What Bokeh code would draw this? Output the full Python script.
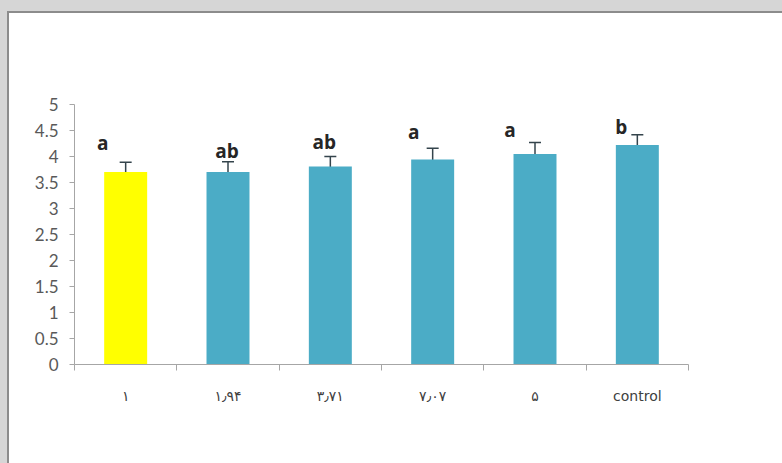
from bokeh.plotting import figure
from bokeh.models import ColumnDataSource, Whisker, TeeHead, FixedTicker, Range1d
from bokeh.core.properties import value
from bokeh.embed import file_html
from bokeh.resources import INLINE

# Treatment groups, mean scores, standard errors and significance letters
categories = ["۱", "۱٫۹۴", "۳٫۷۱", "۷٫۰۷", "۵", "control"]
means = [3.70, 3.70, 3.81, 3.94, 4.05, 4.22]
errors = [0.19, 0.20, 0.19, 0.22, 0.22, 0.20]
letters = ["a", "ab", "ab", "a", "a", "b"]
y_ticks = [0, 0.5, 1, 1.5, 2, 2.5, 3, 3.5, 4, 4.5, 5]

# bar fill per group and small pixel nudges for the letter labels
bar_colors = ["#ffff00", "#4bacc6", "#4bacc6", "#4bacc6", "#4bacc6", "#4bacc6"]
letter_dx = [-23, -1, -6, -19, -25, -16]
letter_dy = [-19, -11, -15, -16, -12, -8]

xs = [i + 0.5 for i in range(len(categories))]
src = ColumnDataSource(dict(
    x=xs,
    mean=means,
    upper=[m + e for m, e in zip(means, errors)],
    lower=[m - e for m, e in zip(means, errors)],
    color=bar_colors,
    letter=letters,
    dx=letter_dx,
    dy=letter_dy,
))

p = figure(width=782, height=463, output_backend="svg", toolbar_location=None,
           x_range=Range1d(0, len(categories)), y_range=Range1d(0, 5),
           min_border_left=74, min_border_right=94, min_border_top=104,
           min_border_bottom=99)
# transparent canvas border so the page styling underneath shows through:
# a grey page with a white sheet whose top and left edges are dark
p.border_fill_alpha = 0
p.background_fill_color = "white"
p.outline_line_color = None
p.grid.visible = False
p.styles = {
    "background-color": "#d6d6d6",
    "background-image": "linear-gradient(#ffffff, #ffffff), linear-gradient(#8c8c8c, #8c8c8c)",
    "background-position": "9px 13px, 7px 11px",
    "background-size": "100% 100%, 100% 100%",
    "background-repeat": "no-repeat",
}

p.vbar(x="x", top="mean", bottom=0, width=0.42, fill_color="color",
       line_color=None, source=src)

p.add_layout(Whisker(base="x", upper="upper", lower="lower", source=src,
                     dimension="height", line_color="#34444c", line_width=1.5,
                     upper_head=TeeHead(size=12, line_color="#34444c", line_width=1.5),
                     lower_head=TeeHead(size=12, line_color="#34444c", line_width=1.5)))

p.text(x="x", y="upper", text="letter", x_offset="dx", y_offset="dy",
       text_align="center", text_baseline="alphabetic",
       text_font=value("Open Sans"), text_font_style="bold", text_font_size="19px",
       text_color="#262626", source=src)

# category axis: labels at bar centres, tick marks between groups
xa = p.xaxis[0]
xa.ticker = FixedTicker(ticks=xs, minor_ticks=list(range(len(categories) + 1)))
xa.major_label_overrides = {x: c for x, c in zip(xs, categories)}
xa.major_tick_out = 0
xa.major_tick_in = 0
xa.minor_tick_out = 6
xa.minor_tick_in = 0
xa.minor_tick_line_color = "#a6a6a6"
xa.axis_line_color = "#a6a6a6"
xa.major_label_standoff = 17
xa.major_label_text_font = "DejaVu Sans"
xa.major_label_text_font_size = "14px"
xa.major_label_text_color = "#404040"

ya = p.yaxis[0]
ya.ticker = FixedTicker(ticks=y_ticks, minor_ticks=[])
ya.major_label_overrides = {t: f"{t:g}" for t in y_ticks}
ya.major_tick_out = 5
ya.major_tick_in = 0
ya.major_tick_line_color = "#a6a6a6"
ya.axis_line_color = "#a6a6a6"
ya.major_label_standoff = 11
ya.major_label_text_font = "Lato"
ya.major_label_text_font_size = "17px"
ya.major_label_text_color = "#595959"

open("out.html", "w").write(file_html(p, INLINE))
